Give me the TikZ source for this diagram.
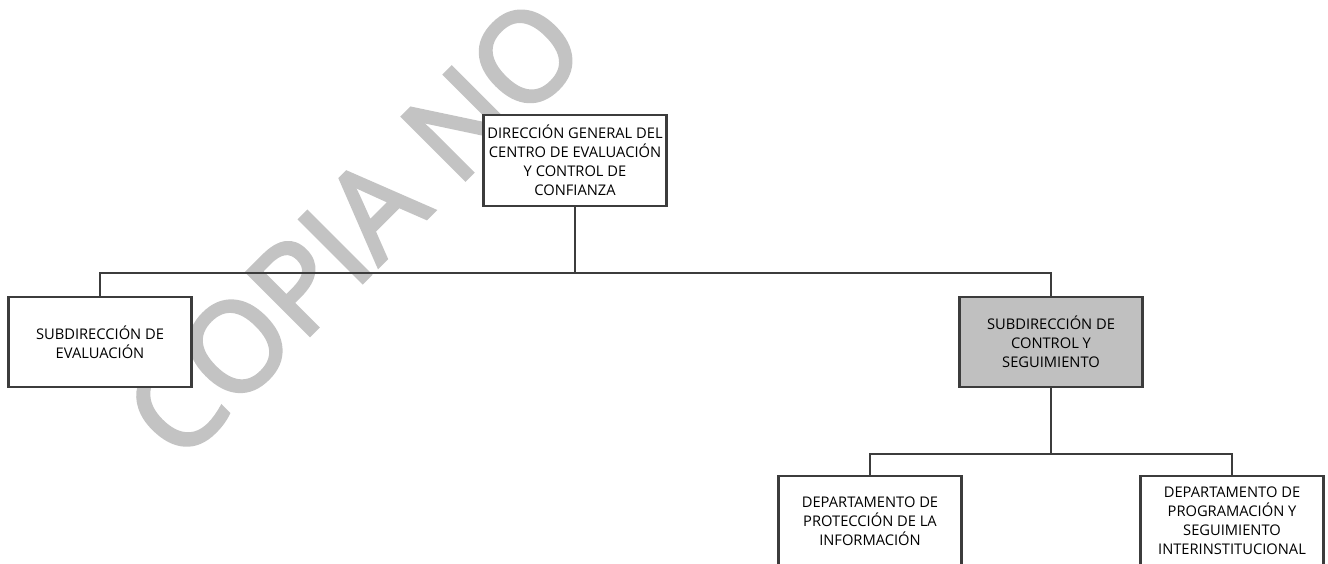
\documentclass[tikz,border=0pt]{standalone}
\usepackage{fontspec}
\setmainfont{Open Sans}
\newfontfamily\wmfont[FakeBold=3]{Open Sans}
\definecolor{linecol}{HTML}{3C3C3C}
\definecolor{boxgray}{HTML}{C0C0C0}
\definecolor{wmark}{HTML}{C3C3C3}
\begin{document}
\begin{tikzpicture}[x=1pt,y=-1pt,
  orgbox/.style={draw=linecol, line width=2.6pt, fill=white, minimum width=183pt,
    minimum height=90pt, inner sep=0pt, align=center, text=black,
    font=\fontsize{14.7}{19}\selectfont},
  conn/.style={draw=linecol, line width=2.6pt}]
\useasboundingbox (0,0) rectangle (1328,564);
\clip (0,0) rectangle (1328,564);
\node[text=wmark, rotate=45, inner sep=0pt, font=\wmfont\fontsize{124}{130}\selectfont] (wm) at (354,228) {COPIA NO};
\node[orgbox, minimum height=91pt] (top) at (575,160.5) {DIRECCIÓN GENERAL DEL\\CENTRO DE EVALUACIÓN\\Y CONTROL DE\\CONFIANZA};
\node[orgbox] (left) at (100,342) {SUBDIRECCIÓN DE\\EVALUACIÓN};
\node[orgbox, fill=boxgray] (gray) at (1051,342) {SUBDIRECCIÓN DE\\CONTROL Y\\SEGUIMIENTO};
\node[orgbox] (dep1) at (870,521) {DEPARTAMENTO DE\\PROTECCIÓN DE LA\\INFORMACIÓN};
\node[orgbox] (dep2) at (1232,521) {DEPARTAMENTO DE\\PROGRAMACIÓN Y\\SEGUIMIENTO\\INTERINSTITUCIONAL};
\coordinate (bar1) at (0,273);
\coordinate (bar2) at (0,454);
\draw[conn] (top.south) -- (top.south |- bar1);
\draw[conn] (left.north) -- (left.north |- bar1) -- (gray.north |- bar1) -- (gray.north);
\draw[conn] (gray.south) -- (gray.south |- bar2);
\draw[conn] (dep1.north) -- (dep1.north |- bar2) -- (dep2.north |- bar2) -- (dep2.north);
\end{tikzpicture}
\end{document}
